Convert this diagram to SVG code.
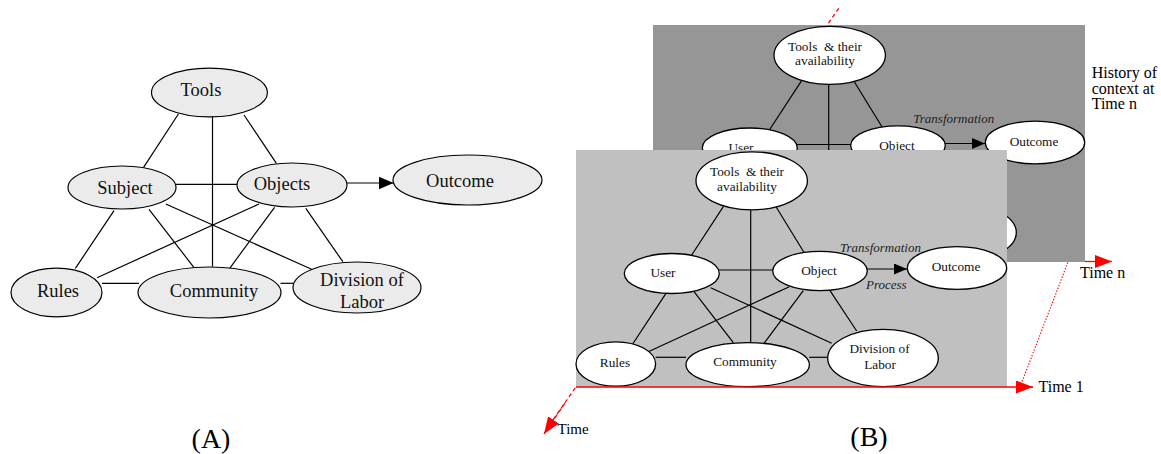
<svg xmlns="http://www.w3.org/2000/svg" width="1161" height="454" viewBox="0 0 1161 454">
<style>
.a{fill:#ebebeb;stroke:#000;stroke-width:1.2}
.w{fill:#fff;stroke:#000;stroke-width:1.3}
.e line{stroke:#000;stroke-width:1.2}
.t{font-family:"Liberation Serif","Times New Roman",serif;fill:#111;text-anchor:middle}
.ta{font-size:18.5px}
.tb{font-size:13.3px}
.it{font-family:"Liberation Serif","Times New Roman",serif;font-style:italic;font-size:13px;fill:#222}
.lab{font-family:"Liberation Serif","Times New Roman",serif;fill:#000}
</style>
<defs>
<marker id="ah" viewBox="0 0 15 13" refX="15" refY="6.5" markerWidth="15" markerHeight="13" markerUnits="userSpaceOnUse" orient="auto"><path d="M0,0L15,6.5L0,13z" fill="#000"/></marker>
<marker id="ahb" viewBox="0 0 13 11" refX="13" refY="5.5" markerWidth="13" markerHeight="11" markerUnits="userSpaceOnUse" orient="auto"><path d="M0,0L13,5.5L0,11z" fill="#000"/></marker>
<marker id="ar" viewBox="0 0 17 13" refX="17" refY="6.5" markerWidth="17" markerHeight="13" markerUnits="userSpaceOnUse" orient="auto"><path d="M0,0L17,6.5L0,13z" fill="#f00"/></marker>
</defs>

<!-- ============ Diagram A ============ -->
<g id="a-connectors" class="e">
<line x1="178.4" y1="114" x2="143.6" y2="167.3"/>
<line x1="244" y1="115" x2="276.4" y2="163.3"/>
<line x1="212.5" y1="116.5" x2="212.5" y2="266.7"/>
<line x1="176" y1="184.3" x2="238" y2="184.3"/>
<line x1="114" y1="210.7" x2="75.4" y2="268.3"/>
<line x1="149" y1="209.3" x2="193.8" y2="267.3"/>
<line x1="165.8" y1="204" x2="311.6" y2="269.3"/>
<line x1="259" y1="204" x2="97" y2="277.7"/>
<line x1="274.6" y1="207.3" x2="229.7" y2="268.3"/>
<line x1="305.8" y1="208.3" x2="342.8" y2="261.7"/>
<line x1="102" y1="283.3" x2="139" y2="283.3"/>
<line x1="280.5" y1="283.3" x2="294" y2="283.3"/>
<line x1="339" y1="183" x2="393.5" y2="183" marker-end="url(#ah)"/>
</g>
<g id="a-tools"><ellipse class="a" cx="209.5" cy="92.5" rx="58" ry="24.3"/><text class="t ta" x="201" y="96">Tools</text></g>
<g id="a-subject"><ellipse class="a" cx="122" cy="187.5" rx="54" ry="21.5"/><text class="t ta" x="125" y="194">Subject</text></g>
<g id="a-objects"><ellipse class="a" cx="292" cy="185" rx="55" ry="22"/><text class="t ta" x="282" y="189.5">Objects</text></g>
<g id="a-outcome"><ellipse class="a" cx="467.5" cy="180" rx="74.5" ry="25"/><text class="t ta" x="460" y="187">Outcome</text></g>
<g id="a-rules"><ellipse class="a" cx="56.5" cy="292.5" rx="45.5" ry="24.3"/><text class="t ta" x="58" y="297">Rules</text></g>
<g id="a-community"><ellipse class="a" cx="209.5" cy="292.5" rx="71.5" ry="25.5"/><text class="t ta" x="214" y="297">Community</text></g>
<g id="a-division"><ellipse class="a" cx="357" cy="287.5" rx="64" ry="25.5"/><text class="t ta" x="362" y="286">Division of</text><text class="t ta" x="362" y="308">Labor</text></g>
<text id="label-a" class="lab" x="211" y="448" font-size="28" text-anchor="middle">(A)</text>

<!-- ============ Diagram B ============ -->
<g id="time-axes">
<line x1="553" y1="420" x2="839" y2="8" stroke="#f00" stroke-width="1.3" stroke-dasharray="4,3"/>
</g>

<!-- back panel (Time n) -->
<g id="panel-n">
<rect x="653" y="25" width="432" height="237" fill="#969696"/>
<g transform="translate(78,-125.5)">
<g class="e">
<line x1="723.3" y1="206.7" x2="691.7" y2="255"/>
<line x1="750.7" y1="210" x2="750.7" y2="342.7"/>
<line x1="776" y1="206.7" x2="805" y2="254"/>
<line x1="719" y1="270" x2="773" y2="270"/>
<line x1="666" y1="293.3" x2="632.7" y2="344"/>
<line x1="694" y1="291.7" x2="733.3" y2="342.7"/>
<line x1="710.7" y1="287.7" x2="831.7" y2="343.3"/>
<line x1="789.3" y1="286.7" x2="648.3" y2="351.7"/>
<line x1="803.3" y1="290.7" x2="764" y2="343.3"/>
<line x1="830" y1="290.7" x2="856.7" y2="331"/>
<line x1="655.7" y1="357.3" x2="686" y2="357.3"/>
<line x1="809.3" y1="357.3" x2="827.7" y2="357.3"/>
<line x1="860" y1="269" x2="907" y2="269" marker-end="url(#ahb)"/>
</g>
<g id="n-tools"><ellipse class="w" cx="751.7" cy="180.8" rx="55.7" ry="29"/><text class="t tb" x="747" y="176" xml:space="preserve">Tools  &amp; their</text><text class="t tb" x="747" y="190.5">availability</text></g>
<g id="n-user"><ellipse class="w" cx="671.8" cy="273.5" rx="47.5" ry="20"/><text class="t tb" x="663" y="277">User</text></g>
<g id="n-object"><ellipse class="w" cx="820" cy="271" rx="47.3" ry="19.7"/><text class="t tb" x="819" y="275">Object</text></g>
<g id="n-outcome"><ellipse class="w" cx="957" cy="268" rx="49.7" ry="21.3"/><text class="t tb" x="956" y="271">Outcome</text></g>
<g id="n-rules"><ellipse class="w" cx="615.8" cy="364" rx="39.8" ry="22.2"/><text class="t tb" x="615" y="367">Rules</text></g>
<g id="n-community"><ellipse class="w" cx="747.7" cy="364.7" rx="61.7" ry="22"/><text class="t tb" x="745" y="366">Community</text></g>
<g id="n-division"><ellipse class="w" cx="883" cy="358" rx="55.3" ry="28.7"/><text class="t tb" x="879.5" y="353">Division of</text><text class="t tb" x="880" y="368.5">Labor</text></g>
<text class="it" x="835.3" y="248.2">Transformation</text>
<text class="it" x="866" y="289.3">Process</text>
</g>
</g>

<!-- front panel (Time 1) -->
<g id="panel-1">
<rect x="576" y="150" width="431" height="237" fill="#c0c0c0"/>
<g class="e">
<line x1="723.3" y1="206.7" x2="691.7" y2="255"/>
<line x1="750.7" y1="210" x2="750.7" y2="342.7"/>
<line x1="776" y1="206.7" x2="805" y2="254"/>
<line x1="719" y1="270" x2="773" y2="270"/>
<line x1="666" y1="293.3" x2="632.7" y2="344"/>
<line x1="694" y1="291.7" x2="733.3" y2="342.7"/>
<line x1="710.7" y1="287.7" x2="831.7" y2="343.3"/>
<line x1="789.3" y1="286.7" x2="648.3" y2="351.7"/>
<line x1="803.3" y1="290.7" x2="764" y2="343.3"/>
<line x1="830" y1="290.7" x2="856.7" y2="331"/>
<line x1="655.7" y1="357.3" x2="686" y2="357.3"/>
<line x1="809.3" y1="357.3" x2="827.7" y2="357.3"/>
<line x1="860" y1="269" x2="907" y2="269" marker-end="url(#ahb)"/>
</g>
<g id="f-tools"><ellipse class="w" cx="751.7" cy="180.8" rx="55.7" ry="29"/><text class="t tb" x="747" y="176" xml:space="preserve">Tools  &amp; their</text><text class="t tb" x="747" y="190.5">availability</text></g>
<g id="f-user"><ellipse class="w" cx="671.8" cy="273.5" rx="47.5" ry="20"/><text class="t tb" x="663" y="277">User</text></g>
<g id="f-object"><ellipse class="w" cx="820" cy="271" rx="47.3" ry="19.7"/><text class="t tb" x="819" y="275">Object</text></g>
<g id="f-outcome"><ellipse class="w" cx="957" cy="268" rx="49.7" ry="21.3"/><text class="t tb" x="956" y="271">Outcome</text></g>
<g id="f-rules"><ellipse class="w" cx="615.8" cy="364" rx="39.8" ry="22.2"/><text class="t tb" x="615" y="367">Rules</text></g>
<g id="f-community"><ellipse class="w" cx="747.7" cy="364.7" rx="61.7" ry="22"/><text class="t tb" x="745" y="366">Community</text></g>
<g id="f-division"><ellipse class="w" cx="883" cy="358" rx="55.3" ry="28.7"/><text class="t tb" x="879.5" y="353">Division of</text><text class="t tb" x="880" y="368.5">Labor</text></g>
<text class="it" x="840" y="251.7">Transformation</text>
<text class="it" x="866" y="289.3">Process</text>
</g>

<g id="time-arrows">
<line x1="1085" y1="261.5" x2="1112" y2="261.5" stroke="#f00" stroke-width="1.3" marker-end="url(#ar)"/>
<line x1="576" y1="387" x2="1033" y2="387" stroke="#f00" stroke-width="1.3" marker-end="url(#ar)"/>
<line x1="1020" y1="387" x2="1068" y2="262" stroke="#f00" stroke-width="1.2" stroke-dasharray="1.3,1.7"/>
<line x1="565" y1="403" x2="544" y2="434" stroke="#f00" stroke-width="1.3" stroke-dasharray="4,3" marker-end="url(#ar)"/>
</g>

<text class="lab" x="1091.7" y="78" font-size="16">History of</text>
<text class="lab" x="1091.7" y="93.5" font-size="16">context at</text>
<text class="lab" x="1091.7" y="109" font-size="16">Time n</text>
<text class="lab" x="1080" y="278" font-size="16">Time n</text>
<text class="lab" x="1038.5" y="392" font-size="16">Time 1</text>
<text class="lab" x="557.5" y="433.5" font-size="15">Time</text>
<text id="label-b" class="lab" x="869" y="446" font-size="28" text-anchor="middle">(B)</text>
</svg>
